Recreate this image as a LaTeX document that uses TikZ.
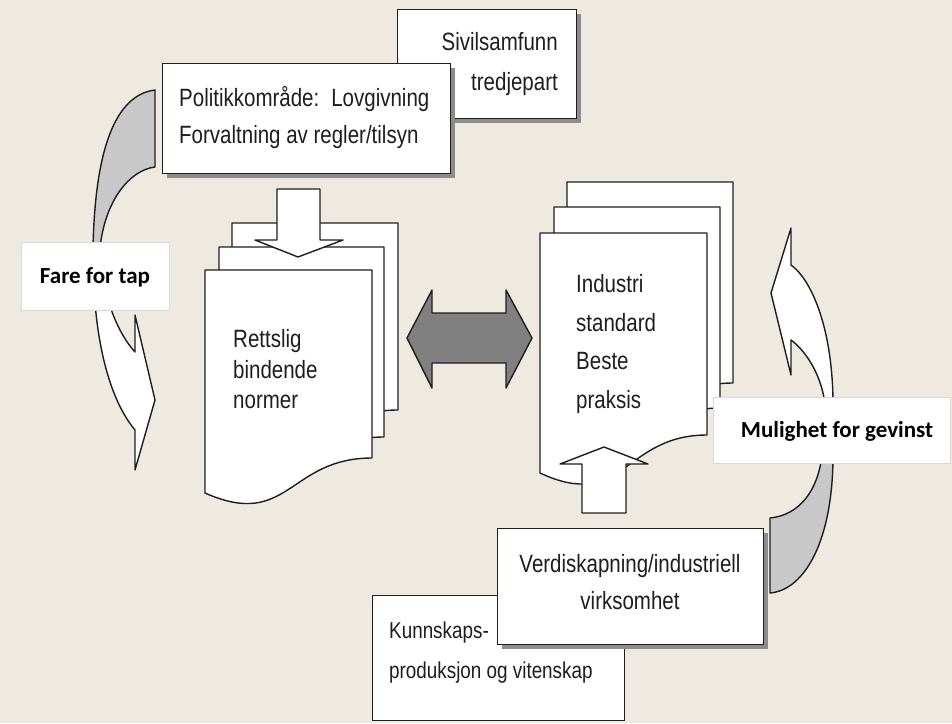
\documentclass[tikz,border=0pt]{standalone}
\usepackage{fontspec}
\setmainfont{Liberation Sans}
\newfontfamily\nf[FakeStretch=0.82]{Liberation Sans}
\newfontfamily\cf{Carlito}
\usetikzlibrary{shadows}
\definecolor{bg}{RGB}{238,234,226}
\definecolor{band}{RGB}{200,200,200}
\definecolor{darr}{RGB}{128,128,128}
\definecolor{ink}{RGB}{30,30,30}
\newcommand\docpage[6]{%
  \draw[page] (#1,#3) -- (#2,#3) -- (#2,#4)
    .. controls ({(#1+#2)/2},#4) and ({(#1+#2)/2},#6) .. (#1,#5) -- cycle;}
\begin{document}
\begin{tikzpicture}[x=1pt,y=-1pt,
  outl/.style={draw=ink, line width=1.4pt, line join=round},
  page/.style={outl, fill=white},
  box/.style={draw=ink, line width=1.4pt, fill=white, inner sep=0pt, anchor=north west},
  shbox/.style={box, drop shadow={shadow xshift=4pt, shadow yshift=-4pt, fill=black!45, opacity=1}},
  lbl/.style={draw=black!15, line width=0.6pt, fill=white, inner sep=0pt, anchor=north west},
  txt/.style={font=\nf\fontsize{25}{29}\selectfont, text=ink, inner sep=0pt},
  stxt/.style={font=\nf\fontsize{23}{27}\selectfont, text=ink, inner sep=0pt},
  btxt/.style={font=\cf\bfseries\fontsize{23}{27}\selectfont, text=black, inner sep=0pt},
]
\fill[bg] (0,0) rectangle (952,723);
\useasboundingbox (0,0) rectangle (952,723);

% left curved arrow (Fare for tap)
\draw[outl, fill=band] (155,90) -- (155,167) .. controls (130,170) and (105,200) .. (100,248)
  -- (93,248) .. controls (95,150) and (115,95) .. (155,90) -- cycle;
\draw[outl, fill=white] (135,470) -- (135,430) .. controls (110,400) and (92,340) .. (93,245)
  -- (100,245) .. controls (101,290) and (115,330) .. (135,352) -- (135,315) -- (155,400) -- cycle;

% right curved arrow (Mulighet for gevinst)
\draw[outl, fill=band] (770,518) -- (770,593) .. controls (805,590) and (833,540) .. (833,455)
  -- (822,455) .. controls (818,490) and (800,515) .. (770,518) -- cycle;
\draw[outl, fill=white] (791,228) -- (791,265) .. controls (812,280) and (833,330) .. (833,405)
  -- (825,405) .. controls (822,375) and (805,350) .. (791,340) -- (791,375) -- (771,293) -- cycle;

% top boxes
\node[shbox, minimum width=179pt, minimum height=109pt] (sivil) at (397,9) {};
\node[txt, anchor=base east] (siv1) at (558,50) {Sivilsamfunn};
\node[txt, anchor=base east] (siv2) at (558,90) {tredjepart};
\node[shbox, minimum width=288pt, minimum height=110pt] (pol) at (162,63) {};
\node[txt, anchor=base west] (pol1) at (179,106) {Politikkområde:\hspace{12pt}Lovgivning};
\node[txt, anchor=base west] (pol2) at (179,143) {Forvaltning av regler/tilsyn};

% left document stack
\docpage{232}{398}{223}{410}{445}{482}
\docpage{219}{384}{247}{437}{472}{510}
\docpage{205}{372}{270}{458}{493}{530}
\draw[outl, fill=white] (277,189) -- (320,189) -- (320,240) -- (343,240) -- (298,257) -- (255,240) -- (277,240) -- cycle;
\node[txt, anchor=base west] (ret1) at (233,347) {Rettslig};
\node[txt, anchor=base west] (ret2) at (233,378) {bindende};
\node[txt, anchor=base west] (ret3) at (233,408) {normer};

% right document stack
\docpage{567}{733}{182}{383}{420}{460}
\docpage{554}{720}{207}{408}{445}{485}
\docpage{540}{707}{233}{435}{473}{512}
\draw[outl, fill=white] (582,513) -- (626,513) -- (626,464) -- (648,464) -- (604,447) -- (560,464) -- (582,464) -- cycle;
\node[txt, anchor=base west] (ind1) at (576,292) {Industri};
\node[txt, anchor=base west] (ind2) at (576,331) {standard};
\node[txt, anchor=base west] (ind3) at (576,369) {Beste};
\node[txt, anchor=base west] (ind4) at (576,408) {praksis};

% double arrow
\draw[outl, fill=darr] (407,338) -- (432,290) -- (432,313) -- (506,313) -- (506,290) -- (532,338)
  -- (506,388) -- (506,363) -- (432,363) -- (432,388) -- cycle;

% bottom boxes
\node[box, minimum width=252pt, minimum height=125pt] (kunn) at (372,595) {};
\node[stxt, anchor=base west] (kun1) at (389,638) {Kunnskaps-};
\node[stxt, anchor=base west] (kun2) at (389,678) {produksjon og vitenskap};
\node[shbox, minimum width=266pt, minimum height=116pt] (verd) at (497,528) {};
\node[txt, anchor=base] (ver1) at (630,572) {Verdiskapning/industriell};
\node[txt, anchor=base] (ver2) at (630,609) {virksomhet};

% labels
\node[lbl, minimum width=148pt, minimum height=68pt] (farebox) at (21,242) {};
\node[btxt, anchor=base] (fare) at (95,283) {Fare for tap};
\node[lbl, minimum width=237pt, minimum height=66pt] (mulbox) at (713,397) {};
\node[btxt, anchor=base] (mul) at (837,437) {Mulighet for gevinst};
\end{tikzpicture}
\end{document}
